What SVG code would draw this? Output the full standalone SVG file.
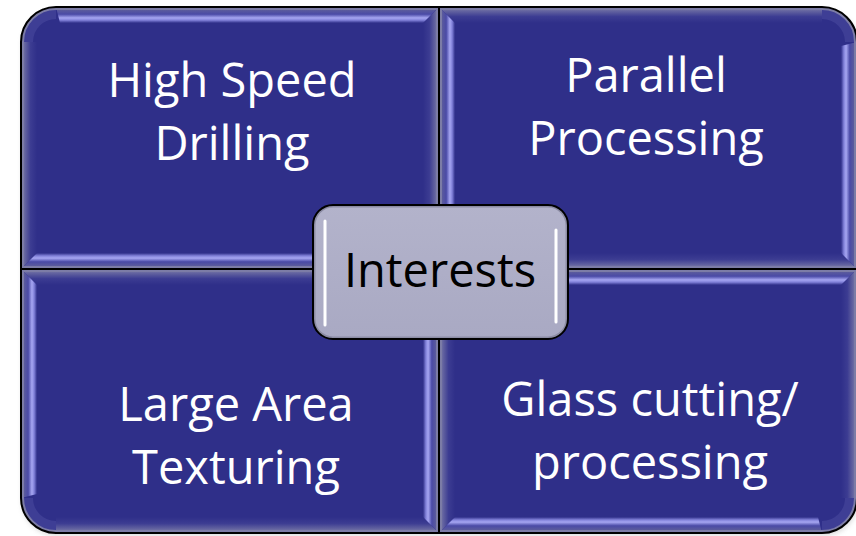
<svg xmlns="http://www.w3.org/2000/svg" width="856" height="536" viewBox="0 0 856 536">
  <defs>
    <style>
      .q { fill: #2F2F89; }
      .rim { fill: none; stroke: #7C7CA6; stroke-width: 6; }
      .edge { fill: none; stroke: #000; stroke-width: 2; }
      .lbl { font-family: "Open Sans", "Noto Sans", "Liberation Sans", sans-serif; font-size: 47px; fill: #FFFFFF; text-anchor: middle; }
      .ctr { font-family: "Open Sans", "Noto Sans", "Liberation Sans", sans-serif; font-size: 47px; fill: #000000; text-anchor: middle; }
      .corner { fill: none; stroke: #45459A; stroke-width: 12; opacity: 0.7; }
    </style>
    <linearGradient id="hlT" x1="0" y1="0" x2="0" y2="1">
      <stop offset="0" stop-color="#8A8AAA"/><stop offset="0.18" stop-color="#5C5C9C"/><stop offset="0.45" stop-color="#4A4AA6"/>
      <stop offset="0.68" stop-color="#A6A6F2"/><stop offset="0.82" stop-color="#8282DA"/><stop offset="1" stop-color="#2F2F89"/>
    </linearGradient>
    <linearGradient id="hlB" x1="0" y1="1" x2="0" y2="0">
      <stop offset="0" stop-color="#8A8AAA"/><stop offset="0.18" stop-color="#5C5C9C"/><stop offset="0.45" stop-color="#4A4AA6"/>
      <stop offset="0.68" stop-color="#A6A6F2"/><stop offset="0.82" stop-color="#8282DA"/><stop offset="1" stop-color="#2F2F89"/>
    </linearGradient>
    <linearGradient id="hlL" x1="0" y1="0" x2="1" y2="0">
      <stop offset="0" stop-color="#8A8AAA"/><stop offset="0.18" stop-color="#5C5C9C"/><stop offset="0.45" stop-color="#4A4AA6"/>
      <stop offset="0.68" stop-color="#A6A6F2"/><stop offset="0.82" stop-color="#8282DA"/><stop offset="1" stop-color="#2F2F89"/>
    </linearGradient>
    <linearGradient id="hlR" x1="1" y1="0" x2="0" y2="0">
      <stop offset="0" stop-color="#8A8AAA"/><stop offset="0.18" stop-color="#5C5C9C"/><stop offset="0.45" stop-color="#4A4AA6"/>
      <stop offset="0.68" stop-color="#A6A6F2"/><stop offset="0.82" stop-color="#8282DA"/><stop offset="1" stop-color="#2F2F89"/>
    </linearGradient>
    <linearGradient id="plT" x1="0" y1="0" x2="0" y2="1">
      <stop offset="0" stop-color="#8A8AAA"/><stop offset="0.25" stop-color="#6464A0"/><stop offset="0.6" stop-color="#3C3C92"/><stop offset="1" stop-color="#2F2F89"/>
    </linearGradient>
    <linearGradient id="plB" x1="0" y1="1" x2="0" y2="0">
      <stop offset="0" stop-color="#8A8AAA"/><stop offset="0.25" stop-color="#6464A0"/><stop offset="0.6" stop-color="#3C3C92"/><stop offset="1" stop-color="#2F2F89"/>
    </linearGradient>
    <linearGradient id="plL" x1="0" y1="0" x2="1" y2="0">
      <stop offset="0" stop-color="#8A8AAA"/><stop offset="0.25" stop-color="#6464A0"/><stop offset="0.6" stop-color="#3C3C92"/><stop offset="1" stop-color="#2F2F89"/>
    </linearGradient>
    <linearGradient id="plR" x1="1" y1="0" x2="0" y2="0">
      <stop offset="0" stop-color="#8A8AAA"/><stop offset="0.25" stop-color="#6464A0"/><stop offset="0.6" stop-color="#3C3C92"/><stop offset="1" stop-color="#2F2F89"/>
    </linearGradient>
    <linearGradient id="cfill" x1="0" y1="0" x2="0" y2="1">
      <stop offset="0" stop-color="#B3B3CB"/><stop offset="1" stop-color="#A9A9C3"/>
    </linearGradient>
    <filter id="shadow" x="-5%" y="-5%" width="110%" height="115%">
      <feGaussianBlur stdDeviation="2.5"/>
    </filter>
    <filter id="glow" x="-100%" y="-10%" width="300%" height="120%">
      <feGaussianBlur stdDeviation="0.8"/>
    </filter>
    <clipPath id="cTL"><path d="M21,42 A35,35 0 0 1 56,7 L439,7 L439,269 L21,269 Z"/></clipPath>
    <clipPath id="cTR"><path d="M439,7 L822,7 A35,35 0 0 1 857,42 L857,269 L439,269 Z"/></clipPath>
    <clipPath id="cBL"><path d="M21,269 L439,269 L439,533 L56,533 A35,35 0 0 1 21,498 Z"/></clipPath>
    <clipPath id="cBR"><path d="M439,269 L857,269 L857,498 A35,35 0 0 1 822,533 L439,533 Z"/></clipPath>
    <clipPath id="cC"><rect x="313" y="205" width="255" height="134" rx="20"/></clipPath>
  </defs>

  <rect x="22" y="10" width="836" height="526" rx="35" fill="#9A9A9A" opacity="0.35" filter="url(#shadow)"/>

  <g id="node-high-speed-drilling">
    <g clip-path="url(#cTL)">
      <path class="q" d="M21,42 A35,35 0 0 1 56,7 L439,7 L439,269 L21,269 Z"/>
      <path class="corner" d="M27,42 A29,29 0 0 1 56,13"/>
      <polygon fill="url(#plL)" points="21,42 21,269 37,253 37,42"/>
      <polygon fill="url(#plR)" points="439,7 439,269 423,253 423,23"/>
      <polygon fill="url(#hlT)" points="56,7 439,7 423,23 60,23"/>
      <polygon fill="url(#hlB)" points="21,269 439,269 423,253 37,253"/>
      <path class="rim" d="M21,42 A35,35 0 0 1 56,7 L439,7 L439,269 L21,269 Z"/>
    </g>
    <path class="edge" d="M21,42 A35,35 0 0 1 56,7 L439,7 L439,269 L21,269 Z"/>
    <text class="lbl" x="232" y="97">High Speed</text>
    <text class="lbl" x="232" y="160">Drilling</text>
  </g>

  <g id="node-parallel-processing">
    <g clip-path="url(#cTR)">
      <path class="q" d="M439,7 L822,7 A35,35 0 0 1 857,42 L857,269 L439,269 Z"/>
      <path class="corner" d="M822,13 A29,29 0 0 1 851,42"/>
      <polygon fill="url(#plT)" points="439,7 822,7 822,23 455,23"/>
      <polygon fill="url(#plB)" points="439,269 857,269 841,253 455,253"/>
      <polygon fill="url(#hlL)" points="439,7 439,269 455,253 455,23"/>
      <polygon fill="url(#hlR)" points="857,42 857,269 841,253 841,46"/>
      <path class="rim" d="M439,7 L822,7 A35,35 0 0 1 857,42 L857,269 L439,269 Z"/>
    </g>
    <path class="edge" d="M439,7 L822,7 A35,35 0 0 1 857,42 L857,269 L439,269 Z"/>
    <text class="lbl" x="646" y="92">Parallel</text>
    <text class="lbl" x="646" y="155">Processing</text>
  </g>

  <g id="node-large-area-texturing">
    <g clip-path="url(#cBL)">
      <path class="q" d="M21,269 L439,269 L439,533 L56,533 A35,35 0 0 1 21,498 Z"/>
      <path class="corner" d="M56,527 A29,29 0 0 1 27,498"/>
      <polygon fill="url(#plT)" points="21,269 439,269 423,285 37,285"/>
      <polygon fill="url(#plB)" points="56,533 439,533 423,517 56,517"/>
      <polygon fill="url(#hlL)" points="21,269 21,498 37,494 37,285"/>
      <polygon fill="url(#hlR)" points="439,269 439,533 423,517 423,285"/>
      <path class="rim" d="M21,269 L439,269 L439,533 L56,533 A35,35 0 0 1 21,498 Z"/>
    </g>
    <path class="edge" d="M21,269 L439,269 L439,533 L56,533 A35,35 0 0 1 21,498 Z"/>
    <text class="lbl" x="236" y="421">Large Area</text>
    <text class="lbl" x="236" y="484">Texturing</text>
  </g>

  <g id="node-glass-cutting">
    <g clip-path="url(#cBR)">
      <path class="q" d="M439,269 L857,269 L857,498 A35,35 0 0 1 822,533 L439,533 Z"/>
      <path class="corner" d="M851,498 A29,29 0 0 1 822,527"/>
      <polygon fill="url(#plL)" points="439,269 439,533 455,517 455,285"/>
      <polygon fill="url(#plR)" points="857,269 857,498 841,498 841,285"/>
      <polygon fill="url(#hlT)" points="439,269 857,269 841,285 455,285"/>
      <polygon fill="url(#hlB)" points="439,533 822,533 818,517 455,517"/>
      <path class="rim" d="M439,269 L857,269 L857,498 A35,35 0 0 1 822,533 L439,533 Z"/>
    </g>
    <path class="edge" d="M439,269 L857,269 L857,498 A35,35 0 0 1 822,533 L439,533 Z"/>
    <text class="lbl" x="650" y="416">Glass cutting/</text>
    <text class="lbl" x="650" y="479">processing</text>
  </g>

  <g id="node-interests">
    <rect x="313" y="205" width="255" height="134" rx="20" fill="url(#cfill)"/>
    <rect x="313" y="205" width="255" height="134" rx="20" fill="none" stroke="#8C8CA4" stroke-width="5" clip-path="url(#cC)"/>
    <line x1="325" y1="220" x2="325" y2="326" stroke="#E4E4F8" stroke-width="6" stroke-linecap="round" filter="url(#glow)"/>
    <line x1="325" y1="221" x2="325" y2="325" stroke="#FFFFFF" stroke-width="3" stroke-linecap="round"/>
    <line x1="556" y1="229" x2="556" y2="323" stroke="#E4E4F8" stroke-width="6" stroke-linecap="round" filter="url(#glow)"/>
    <line x1="556" y1="230" x2="556" y2="322" stroke="#FFFFFF" stroke-width="3" stroke-linecap="round"/>
    <rect x="313" y="205" width="255" height="134" rx="20" fill="none" stroke="#000" stroke-width="2"/>
    <text class="ctr" x="440" y="287">Interests</text>
  </g>

  <g id="connectors"/>
</svg>
